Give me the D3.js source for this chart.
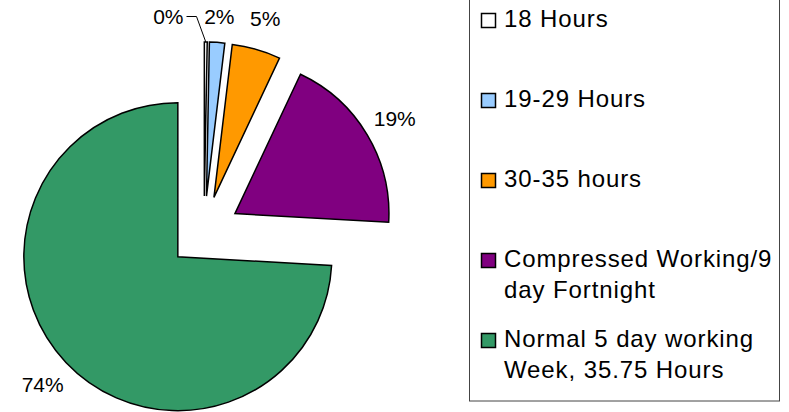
<!DOCTYPE html>
<html>
<head>
<meta charset="utf-8">
<script src="https://cdn.jsdelivr.net/npm/d3@7"></script>
<style>
  body { margin: 0; background: #fff; }
  text { font-family: "Liberation Sans", Arial, sans-serif; fill: #000; }
</style>
</head>
<body>
<div class="canvas"></div>
<script>
// data
const categories = ["18 Hours", "19-29 Hours", "30-35 hours",
    "Compressed Working/9 day Fortnight", "Normal 5 day working Week, 35.75 Hours"]
const legendLines = [["18 Hours"], ["19-29 Hours"], ["30-35 hours"],
    ["Compressed Working/9", "day Fortnight"], ["Normal 5 day working", "Week, 35.75 Hours"]]
const shares = [0.3, 1.6, 5.1, 18.9, 74.1]
const colors = ["#ffffff", "#99ccff", "#ff9900", "#800080", "#339966"]

// settings
const svgWidth = 789
const svgHeight = 412
const center = {x: 204, y: 232}
const radius = 154
const explode = 36
const labelRadius = 222

const svg = d3.select(".canvas")
    .append("svg")
    .attr("width", svgWidth)
    .attr("height", svgHeight)

const pie = d3.pie().sort(null).value(d => d)
const arcs = pie(shares)
const arc = d3.arc().innerRadius(0).outerRadius(radius)

const dir = a => [Math.sin(a), -Math.cos(a)]
const mid = d => (d.startAngle + d.endAngle) / 2

// slices, each pushed out along its middle angle
const graph = svg.append("g")
    .attr("transform", `translate(${center.x}, ${center.y})`)

graph.selectAll("path")
    .data(arcs)
    .enter()
    .append("path")
        .attr("d", arc)
        .attr("fill", (d, i) => colors[i])
        .attr("stroke", "#000")
        .attr("stroke-width", 1.5)
        .attr("transform", d => {
            const [dx, dy] = dir(mid(d))
            return `translate(${dx * explode}, ${dy * explode})`
        })

// percentage labels
const labelSize = 21
const capH = labelSize * 0.716
const minCy = 16.5 - center.y   // keep labels inside the plot area

const labelPos = d => {
    const [dx, dy] = dir(mid(d))
    return [dx * labelRadius, Math.max(dy * labelRadius, minCy)]
}

const labels = graph.append("g")
arcs.forEach((d, i) => {
    let [cx, cy] = labelPos(d)
    const t = labels.append("text")
        .attr("font-size", labelSize)
        .attr("text-anchor", "middle")
        .text(Math.round(d.value) + "%")
    const w = t.node().getComputedTextLength()
    if (i === 0) {
        // tiny slice: label pulled left of its neighbour, with a leader line
        const [nx, ny] = labelPos(arcs[1])
        cx = nx - 51
        cy = ny
        const [dx, dy] = dir(mid(d))
        const ex = dx * (radius + explode), ey = dy * (radius + explode)
        labels.append("path")
            .attr("d", `M${cx + w / 2 + 3},${cy}L${cx + w / 2 + 13},${cy}L${ex},${ey}`)
            .attr("fill", "none")
            .attr("stroke", "#000")
            .attr("stroke-width", 1)
    }
    t.attr("x", cx).attr("y", cy + capH / 2)
})

// legend
const legend = svg.append("g")
legend.append("rect")
    .attr("x", 469.5)
    .attr("y", -5)
    .attr("width", 310)
    .attr("height", 406)
    .attr("fill", "#fff")
    .attr("stroke", "#444")
    .attr("stroke-width", 1)

const rowY = d3.scaleLinear().domain([0, 4]).range([27, 347])

legendLines.forEach((lines, i) => {
    const y = rowY(i)
    legend.append("rect")
        .attr("x", 481.5)
        .attr("y", y - 13.5)
        .attr("width", 14)
        .attr("height", 14)
        .attr("fill", colors[i])
        .attr("stroke", "#000")
        .attr("stroke-width", 1.5)
    const t = legend.append("text")
        .attr("x", 504)
        .attr("y", y)
        .attr("font-size", 24)
        .attr("letter-spacing", 0.9)
    lines.forEach((ln, j) => {
        t.append("tspan")
            .attr("x", 504)
            .attr("dy", j === 0 ? 0 : 31)
            .text(ln)
    })
})
</script>
</body>
</html>
